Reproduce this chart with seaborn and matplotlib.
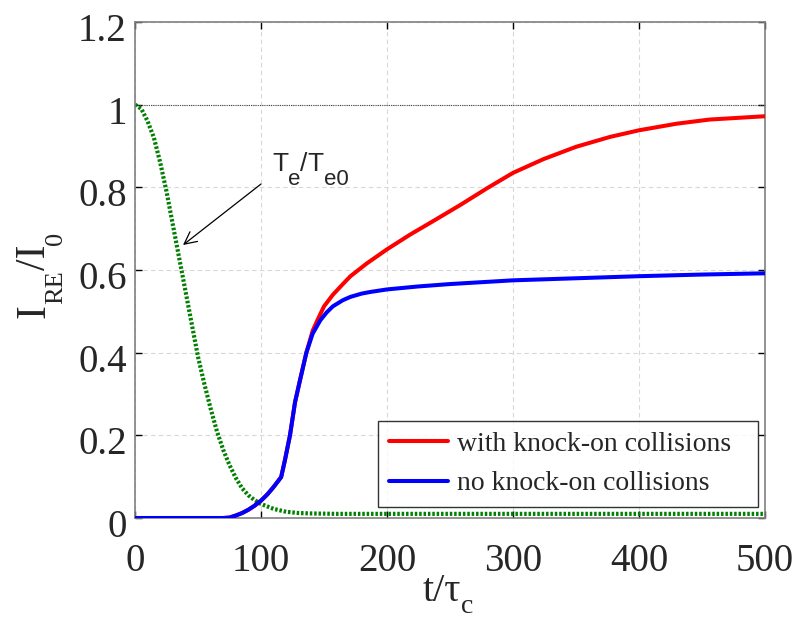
import matplotlib
matplotlib.use("Agg")
import matplotlib.pyplot as plt
from matplotlib.transforms import IdentityTransform, ScaledTranslation
import seaborn as sns
import pandas as pd

# Runaway current (normalised) vs time, with and without knock-on collisions
t_with = [0, 70, 75, 80, 85, 90, 95, 100, 105, 110, 116, 119, 123, 127, 131, 136,
          141, 145, 150, 157, 165, 171, 184, 200, 218, 237, 258, 279, 300, 324,
          350, 377, 400, 430, 456, 500]
i_with = [0, 0, 0.001, 0.006, 0.012, 0.020, 0.030, 0.042, 0.057, 0.075, 0.099, 0.14,
          0.20, 0.28, 0.334, 0.40, 0.453, 0.480, 0.512, 0.540, 0.566, 0.585, 0.616,
          0.650, 0.685, 0.719, 0.757, 0.797, 0.835, 0.868, 0.898, 0.922, 0.938,
          0.954, 0.964, 0.972]

t_no = [0, 70, 75, 80, 85, 90, 95, 100, 105, 110, 116, 119, 123, 127, 131, 136,
        141, 147, 152, 157, 165, 171, 180, 187, 200, 224, 250, 300, 350, 400, 450,
        500]
i_no = [0, 0, 0.001, 0.006, 0.012, 0.020, 0.030, 0.042, 0.057, 0.075, 0.099, 0.14,
        0.20, 0.28, 0.334, 0.40, 0.446, 0.478, 0.497, 0.512, 0.527, 0.535, 0.543,
        0.547, 0.553, 0.560, 0.566, 0.575, 0.580, 0.585, 0.589, 0.592]

# Electron temperature (normalised)
t_te = [0, 5, 10, 15, 20, 25, 30, 35, 40, 45, 50, 55, 60, 65, 70, 75, 80, 85, 90,
        95, 100, 110, 120, 130, 140, 160, 200, 300, 400, 500]
te = [1.00, 0.99, 0.96, 0.92, 0.86, 0.79, 0.71, 0.63, 0.55, 0.47, 0.39, 0.325,
      0.265, 0.21, 0.165, 0.128, 0.097, 0.072, 0.055, 0.043, 0.034, 0.022, 0.015,
      0.012, 0.011, 0.010, 0.010, 0.010, 0.010, 0.010]

labels = ["with knock-on collisions", "no knock-on collisions"]
colors = ["#ff0000", "#0000ff"]

x_ticks = [0, 100, 200, 300, 400, 500]
y_ticks = [0, 0.2, 0.4, 0.6, 0.8, 1.0, 1.2]
y_tick_labels = ["0", "0.2", "0.4", "0.6", "0.8", "1", "1.2"]

df = pd.concat([
    pd.DataFrame({"t": t_with, "I": i_with, "case": labels[0]}),
    pd.DataFrame({"t": t_no, "I": i_no, "case": labels[1]}),
])
df_te = pd.DataFrame({"t": t_te, "Te": te})

sns.set_style("white")
plt.rcParams["font.family"] = ["Liberation Serif", "DejaVu Serif"]

W, H = 796, 622
fig = plt.figure(figsize=(W / 100, H / 100), dpi=100)
ax = fig.add_axes([135 / W, 1 - 518 / H, 630 / W, 496 / H])

ax.set_xlim(0, 500)
ax.set_ylim(0, 1.2)
ax.set_xticks(x_ticks)
ax.set_yticks(y_ticks)
ax.set_yticklabels(y_tick_labels)
ax.grid(True, color="#d8d8d8", linestyle=(0, (4, 3)), linewidth=0.8)
ax.set_axisbelow(True)

# reference level
ax.axhline(1.0, color="#444444", linestyle=(0, (1, 1)), linewidth=0.8, zorder=1)

sns.lineplot(data=df_te, x="t", y="Te", ax=ax, color="#008000",
             linewidth=3.0, linestyle=(0, (0.6, 0.45)), legend=False, zorder=2)
sns.lineplot(data=df, x="t", y="I", hue="case", hue_order=labels,
             palette=colors, ax=ax, linewidth=2.9, sort=True, zorder=3)

ax.set_xlabel("")
ax.set_ylabel("")

ax.tick_params(axis="both", which="major", direction="in", length=5, width=1,
               color="black", labelsize=28, top=True, right=True,
               bottom=True, left=True)
ax.tick_params(axis="x", pad=18)
ax.tick_params(axis="y", pad=6)
for lab in ax.get_yticklabels():
    lab.set_transform(lab.get_transform() +
                      ScaledTranslation(0, -5 / 100, fig.dpi_scale_trans))
for sp in ax.spines.values():
    sp.set_color("#808080")
    sp.set_linewidth(1.2)

renderer = fig.canvas.get_renderer()


def text_run(x0, y0, pieces, family, rotation=0):
    """Draw text pieces one after another from a baseline start in pixels
    (y measured from the top); each piece is (text, size, drop_px)."""
    pos = 0.0
    for s, size, drop in pieces:
        if rotation == 0:
            xy = (x0 + pos, H - (y0 + drop))
        else:
            xy = (x0 + drop, H - (y0 - pos))
        t = fig.text(xy[0], xy[1], s, transform=IdentityTransform(),
                     fontsize=size, family=family, rotation=rotation,
                     rotation_mode="anchor", ha="left", va="baseline")
        bb = t.get_window_extent(renderer)
        pos += bb.width if rotation == 0 else bb.height


# axis titles
text_run(45, 318, [("I", 30, 0), ("RE", 19, 17), ("/I", 30, 0), ("0", 19, 17)],
         ["Liberation Serif"], rotation=90)
text_run(423, 601, [("t/τ", 29, 0), ("c", 20, 12)], ["Liberation Serif"])

# label and arrow for the temperature curve
text_run(272, 171, [("T", 19, 0), ("e", 16, 14), ("/", 19, 0), ("T", 19, 0),
                    ("e0", 16, 14)], ["Liberation Sans"])
ax.annotate("", xy=(38.1, 0.6605), xytext=(100, 0.808),
            arrowprops=dict(arrowstyle="->", color="black", lw=0.9,
                            mutation_scale=22, shrinkA=0, shrinkB=0),
            zorder=4)

handles, lbls = ax.get_legend_handles_labels()
leg = ax.legend(handles, lbls, loc="lower left",
                bbox_to_anchor=(0.3857, 0.0222, 0.6032, 0.2), mode="expand",
                fontsize=20, frameon=True, fancybox=False, edgecolor="black",
                handlelength=2.15, handletextpad=0.3, borderpad=0.38,
                labelspacing=0.5, borderaxespad=0)
leg.get_frame().set_linewidth(1.0)
for line in leg.get_lines():
    line.set_linewidth(2.9)

fig.savefig("out.png", dpi=100, facecolor="white")
